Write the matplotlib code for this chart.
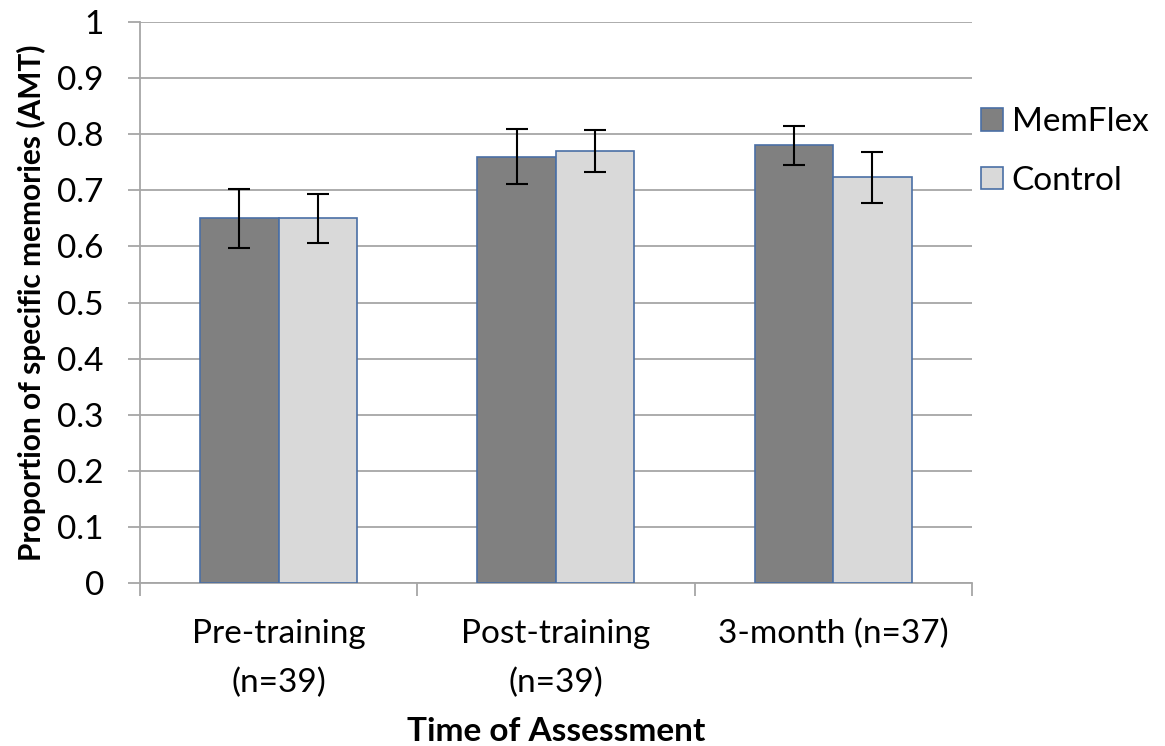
import matplotlib.pyplot as plt
import numpy as np

plt.rcParams['font.family'] = ['Lato', 'DejaVu Sans']

categories = ["Pre-training\n(n=39)", "Post-training\n(n=39)", "3-month (n=37)"]
memflex = [0.65, 0.76, 0.78]
control = [0.65, 0.77, 0.723]
memflex_err = [0.052, 0.049, 0.035]
control_err = [0.044, 0.037, 0.045]

fig = plt.figure(figsize=(11.65, 7.46), dpi=100)
ax = fig.add_axes([0.1202, 0.2185, 0.714, 0.752])

x = np.arange(len(categories))
w = 0.283
edge = '#4a6fa5'
ax.bar(x - w / 2, memflex, w, color='#808080', edgecolor=edge, linewidth=1.2,
       yerr=memflex_err, capsize=8, error_kw=dict(elinewidth=1.5, capthick=1.5, ecolor='black'),
       label='MemFlex', zorder=3)
ax.bar(x + w / 2, control, w, color='#d9d9d9', edgecolor=edge, linewidth=1.2,
       yerr=control_err, capsize=8, error_kw=dict(elinewidth=1.5, capthick=1.5, ecolor='black'),
       label='Control', zorder=3)

ax.set_xlim(-0.5, 2.5)
ax.set_ylim(0, 1)
ax.set_yticks(np.arange(0, 1.01, 0.1))
ax.set_yticklabels(['0', '0.1', '0.2', '0.3', '0.4', '0.5', '0.6', '0.7', '0.8', '0.9', '1'])
ax.yaxis.grid(True, color='#a6a6a6', linewidth=1.3, zorder=0)
ax.set_axisbelow(True)

# tick marks between categories, labels centred
ax.set_xticks([-0.5, 0.5, 1.5, 2.5])
ax.set_xticklabels([])
ax.set_xticks(x, minor=True)
ax.set_xticklabels(categories, minor=True, fontsize=24, linespacing=1.75)
ax.tick_params(axis='x', which='minor', length=0, pad=26)
ax.tick_params(axis='x', which='major', length=9, color='#a6a6a6', width=1.3)
ax.tick_params(axis='y', length=9, color='#a6a6a6', width=1.3, labelsize=24, pad=17)

for s in ['top', 'right']:
    ax.spines[s].set_visible(False)
for s in ['left', 'bottom']:
    ax.spines[s].set_color('#a6a6a6')
    ax.spines[s].set_linewidth(1.3)

ax.set_ylabel('Proportion of specific memories (AMT)', fontsize=21.5, fontweight='bold', labelpad=8)
ax.set_xlabel('Time of Assessment', fontsize=24, fontweight='bold', labelpad=14)

fig.legend(*ax.get_legend_handles_labels(), loc='center left', bbox_to_anchor=(0.842, 0.797),
           frameon=False, fontsize=24, borderpad=0, borderaxespad=0,
           handlelength=0.67, handleheight=0.67, handletextpad=0.25, labelspacing=0.85)

fig.savefig('out.png', dpi=100)
